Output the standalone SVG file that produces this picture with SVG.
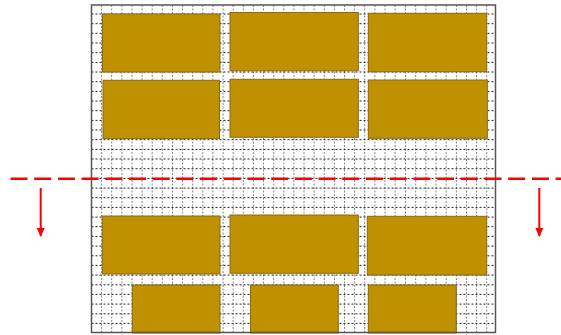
<svg xmlns="http://www.w3.org/2000/svg" width="561" height="335" viewBox="0 0 561 335">
<style>
.blk{fill:#BF9000;stroke:#8A6A10;stroke-width:1}
.hg{fill:none;stroke:#222;stroke-width:1;stroke-dasharray:2,2}
.vg{fill:none;stroke:#888;stroke-width:1;stroke-dasharray:2,1.5}
.cut{fill:none;stroke:#FF0000;stroke-width:2.5;stroke-dasharray:17,6.7}
.arr{fill:none;stroke:#FF0000;stroke-width:2;marker-end:url(#ah)}
</style>
<defs>
<marker id="ah" markerWidth="9" markerHeight="9" refX="8" refY="4.5" orient="auto" markerUnits="userSpaceOnUse">
<path d="M0,0.5 L9,4.5 L0,8.5 Z" fill="#FF0000"/>
</marker>
</defs>
<rect x="91.5" y="5" width="404" height="327.5" fill="#FFFFFF"/>
<g id="grid">
<path class="vg" d="M101.6,5V332.5M111.7,5V332.5M121.9,5V332.5M132,5V332.5M142.1,5V332.5M152.2,5V332.5M162.3,5V332.5M172.5,5V332.5M182.6,5V332.5M192.7,5V332.5M202.8,5V332.5M212.9,5V332.5M223.1,5V332.5M233.2,5V332.5M243.3,5V332.5M253.4,5V332.5M263.5,5V332.5M273.7,5V332.5M283.8,5V332.5M293.9,5V332.5M304,5V332.5M314.1,5V332.5M324.3,5V332.5M334.4,5V332.5M344.5,5V332.5M354.6,5V332.5M364.7,5V332.5M374.9,5V332.5M385,5V332.5M395.1,5V332.5M405.5,5V332.5M415.7,5V332.5M425.9,5V332.5M436,5V332.5M446.2,5V332.5M456.4,5V332.5M466.5,5V332.5M476.6,5V332.5M486.7,5V332.5"/>
<path class="hg" d="M91.5,14H495.5M91.5,23.7H495.5M91.5,33.3H495.5M91.5,43H495.5M91.5,52.7H495.5M91.5,62.4H495.5M91.5,72H495.5M91.5,81.7H495.5M91.5,91.4H495.5M91.5,101H495.5M91.5,110.7H495.5M91.5,120.4H495.5M91.5,130H495.5M91.5,139.7H495.5M91.5,149.4H495.5M91.5,159H495.5M91.5,168.7H495.5M91.5,178.4H495.5M91.5,188.1H495.5M91.5,197.7H495.5M91.5,207.4H495.5M91.5,217.1H495.5M91.5,226.7H495.5M91.5,236.4H495.5M91.5,246.1H495.5M91.5,255.8H495.5M91.5,265.4H495.5M91.5,275.1H495.5M91.5,284.8H495.5M91.5,294.4H495.5M91.5,304.1H495.5M91.5,313.8H495.5M91.5,323.4H495.5"/>
</g>
<g id="b1"><rect class="blk" x="102.5" y="14" width="117.5" height="58"/></g>
<g id="b2"><rect class="blk" x="230" y="12.5" width="128.3" height="58.3"/></g>
<g id="b3"><rect class="blk" x="368.3" y="13.3" width="118.4" height="58.4"/></g>
<g id="b4"><rect class="blk" x="103" y="80.3" width="116.5" height="58.3"/></g>
<g id="b5"><rect class="blk" x="230" y="79.3" width="128.3" height="58"/></g>
<g id="b6"><rect class="blk" x="368.3" y="80" width="119" height="58.3"/></g>
<g id="b7"><rect class="blk" x="102.3" y="216" width="117.7" height="58"/></g>
<g id="b8"><rect class="blk" x="230" y="215" width="128.3" height="58.3"/></g>
<g id="b9"><rect class="blk" x="367.3" y="216.3" width="119.4" height="58.7"/></g>
<g id="b10"><rect class="blk" x="132.3" y="285" width="87.7" height="48"/></g>
<g id="b11"><rect class="blk" x="250.5" y="285" width="87.8" height="48"/></g>
<g id="b12"><rect class="blk" x="368.3" y="285" width="88" height="48"/></g>
<rect x="91.5" y="5" width="404" height="327.5" fill="none" stroke="#555" stroke-width="1.5"/>
<g id="connectors">
<path class="cut" d="M10.5,178.7H561"/>
<path class="arr" d="M40.7,188V236"/>
<path class="arr" d="M539.3,188V236"/>
</g>
</svg>
